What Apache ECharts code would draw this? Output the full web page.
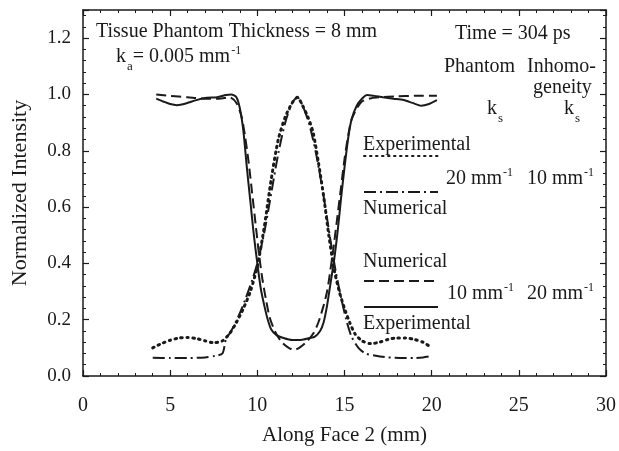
<!DOCTYPE html>
<html><head><meta charset="utf-8">
<script src="https://cdn.jsdelivr.net/npm/echarts@6/dist/echarts.min.js"></script>
<style>html,body{margin:0;padding:0;background:#fff}#c{width:619px;height:451px}</style>
</head><body><div id="c"></div>
<script>
// Experimental, phantom ks 10, inhomogeneity ks 20 (solid)
const expAX = [4.2,4.6,5.0,5.4,5.9,6.5,7.1,7.7,8.2,8.5,8.8,9.0,9.2,9.4,9.6,9.8,10.0,10.2,10.4,10.6,10.8,11.1,11.5,12.0,12.5,13.0,13.3,13.6,13.8,14.0,14.2,14.4,14.6,14.8,15.0,15.2,15.4,15.7,16.0,16.3,16.7,17.2,17.8,18.4,18.9,19.4,19.8,20.3];
const expAY = [0.985,0.975,0.966,0.962,0.968,0.98,0.988,0.99,0.998,1.0,0.99,0.95,0.87,0.74,0.62,0.5,0.4,0.31,0.25,0.2,0.165,0.145,0.135,0.128,0.128,0.135,0.14,0.16,0.19,0.25,0.33,0.41,0.51,0.63,0.74,0.84,0.91,0.96,0.985,0.998,0.995,0.99,0.985,0.98,0.97,0.96,0.965,0.98];
// Numerical, phantom ks 10, inhomogeneity ks 20 (dashed)
const numAX = [4.2,5.0,6.0,7.0,7.8,8.4,8.8,9.1,9.3,9.5,9.7,9.9,10.1,10.3,10.5,10.7,11.0,11.4,11.8,12.1,12.4,12.8,13.2,13.5,13.8,14.0,14.2,14.4,14.6,14.8,15.0,15.2,15.4,15.7,16.0,16.4,17.0,18.0,19.0,20.3];
const numAY = [1.0,0.995,0.99,0.985,0.985,0.99,0.97,0.92,0.85,0.76,0.65,0.54,0.43,0.34,0.27,0.21,0.16,0.12,0.1,0.093,0.1,0.12,0.15,0.19,0.25,0.3,0.38,0.47,0.57,0.67,0.77,0.85,0.91,0.95,0.975,0.985,0.99,0.993,0.995,0.995];
// Experimental, phantom ks 20, inhomogeneity ks 10 (dotted)
const expBX = [4.0,4.5,5.0,5.5,6.0,6.5,7.0,7.5,8.0,8.4,8.8,9.2,9.6,10.0,10.4,10.8,11.2,11.6,12.0,12.3,12.6,12.9,13.2,13.5,13.8,14.1,14.4,14.7,15.0,15.3,15.6,16.0,16.5,17.0,17.5,18.0,18.5,19.0,19.5,19.9];
const expBY = [0.10,0.115,0.127,0.135,0.137,0.133,0.125,0.118,0.125,0.15,0.19,0.24,0.3,0.39,0.53,0.70,0.84,0.92,0.97,0.99,0.96,0.92,0.865,0.76,0.64,0.5,0.38,0.3,0.24,0.19,0.15,0.125,0.115,0.12,0.13,0.135,0.135,0.13,0.12,0.105];
// Numerical, phantom ks 20, inhomogeneity ks 10 (dash-dot)
const numBX = [4.0,5.0,6.0,7.0,7.6,8.0,8.2,8.5,8.9,9.3,9.7,10.0,10.4,10.8,11.2,11.6,12.0,12.3,12.6,13.0,13.4,13.8,14.2,14.5,14.8,15.1,15.4,15.8,16.2,16.8,17.5,18.2,19.0,19.5,19.9];
const numBY = [0.065,0.064,0.064,0.066,0.072,0.08,0.13,0.16,0.21,0.27,0.34,0.4,0.51,0.65,0.79,0.9,0.97,0.99,0.96,0.89,0.78,0.64,0.48,0.37,0.28,0.2,0.14,0.1,0.08,0.072,0.066,0.064,0.064,0.066,0.07];

const zip = (xs, ys) => xs.map((x, i) => [x, ys[i]]);
const F = 'Liberation Serif, Times New Roman, serif';
const C = '#1a1a1a';

const chart = echarts.init(document.getElementById('c'), null, {renderer: 'canvas'});

const axisCommon = {
  axisLine: {show: true, onZero: false, lineStyle: {color: C, width: 1.5}},
  axisTick: {show: true, inside: true, length: 6, lineStyle: {color: C, width: 1.2}},
  minorTick: {show: true, splitNumber: 5, length: 3, lineStyle: {color: C, width: 1}},
  splitLine: {show: false}
};

const lineSeries = (name, data, lineStyle) => ({
  name, type: 'line', data, symbol: 'none', smooth: 0.25,
  lineStyle: Object.assign({color: C}, lineStyle), itemStyle: {color: C},
  z: 3
});

const sDot = {width: 3, type: [1.5, 4.5], cap: 'round'};
const sDashDot = {width: 2, type: [12, 4, 2, 4]};
const sDash = {width: 2, type: [10, 5]};
const sSolid = {width: 2, type: 'solid'};

function txt(x, y, rich, parts, align) {
  return {type: 'text', x, y, z: 10, style: {
    text: parts, rich, fill: C, font: '20px ' + F, align: align || 'left', verticalAlign: 'middle'
  }};
}
const rich = {
  n: {fontSize: 20, fontFamily: F, color: C, lineHeight: 24},
  sub: {fontSize: 13, fontFamily: F, color: C, lineHeight: 24, verticalAlign: 'bottom', padding: [0,0,-4,1]},
  sup: {fontSize: 12, fontFamily: F, color: C, lineHeight: 24, verticalAlign: 'top', padding: [0,0,0,1]}
};

function legendAt(name, top) {
  return {data: [name], left: 363, top: top - 5, itemWidth: 74, itemHeight: 10,
    formatter: () => '', selectedMode: false, padding: 0, itemGap: 0,
    itemStyle: {opacity: 0},
    textStyle: {fontSize: 1}};
}

const option = {
  backgroundColor: '#fff',
  animation: false,
  grid: {left: 83, right: 13, top: 10, bottom: 75},
  xAxis: [
    Object.assign({}, axisCommon, {
      type: 'value', min: 0, max: 30, interval: 5, position: 'bottom',
      name: 'Along Face 2 (mm)', nameLocation: 'middle', nameGap: 49,
      nameTextStyle: {fontFamily: F, fontSize: 21, color: C},
      axisLabel: {fontFamily: F, fontSize: 20, color: C, margin: 20}
    }),
    Object.assign({}, axisCommon, {
      type: 'value', min: 0, max: 30, interval: 5, position: 'top',
      axisLabel: {show: false}
    })
  ],
  yAxis: [
    Object.assign({}, axisCommon, {
      type: 'value', min: 0, max: 1.3, interval: 0.2, position: 'left',
      name: 'Normalized Intensity', nameLocation: 'middle', nameGap: 52,
      nameTextStyle: {fontFamily: F, fontSize: 22, color: C},
      axisLabel: {fontFamily: F, fontSize: 19, color: C, margin: 12, showMaxLabel: false,
        formatter: v => (v > 1.25 ? '' : v.toFixed(1))}
    }),
    Object.assign({}, axisCommon, {
      type: 'value', min: 0, max: 1.3, interval: 0.2, position: 'right',
      axisLabel: {show: false}
    })
  ],
  legend: [
    legendAt('Experimental (20 mm⁻¹ / 10 mm⁻¹)', 156),
    legendAt('Numerical (20 mm⁻¹ / 10 mm⁻¹)', 192),
    legendAt('Numerical (10 mm⁻¹ / 20 mm⁻¹)', 281),
    legendAt('Experimental (10 mm⁻¹ / 20 mm⁻¹)', 307)
  ],
  series: [
    lineSeries('Experimental (10 mm⁻¹ / 20 mm⁻¹)', zip(expAX, expAY), sSolid),
    lineSeries('Numerical (10 mm⁻¹ / 20 mm⁻¹)', zip(numAX, numAY), sDash),
    lineSeries('Experimental (20 mm⁻¹ / 10 mm⁻¹)', zip(expBX, expBY), sDot),
    lineSeries('Numerical (20 mm⁻¹ / 10 mm⁻¹)', zip(numBX, numBY), sDashDot)
  ],
  graphic: [
    txt(96, 32, rich, '{n|Tissue Phantom Thickness = 8 mm}'),
    txt(116, 57, rich, '{n|k}{sub|a}{n|= 0.005 mm}{sup|-1}'),
    txt(455, 34, rich, '{n|Time = 304 ps}'),
    txt(444, 67, rich, '{n|Phantom}'),
    txt(527, 67, rich, '{n|Inhomo-}'),
    txt(533, 88, rich, '{n|geneity}'),
    txt(487, 109, rich, '{n|k}{sub|s}'),
    txt(564, 109, rich, '{n|k}{sub|s}'),
    txt(363, 145, rich, '{n|Experimental}'),
    txt(446, 179, rich, '{n|20 mm}{sup|-1}'),
    txt(527, 179, rich, '{n|10 mm}{sup|-1}'),
    txt(363, 209, rich, '{n|Numerical}'),
    txt(363, 262, rich, '{n|Numerical}'),
    txt(447, 294, rich, '{n|10 mm}{sup|-1}'),
    txt(527, 294, rich, '{n|20 mm}{sup|-1}'),
    txt(363, 324, rich, '{n|Experimental}')
  ]
};
chart.setOption(option);
</script></body></html>
